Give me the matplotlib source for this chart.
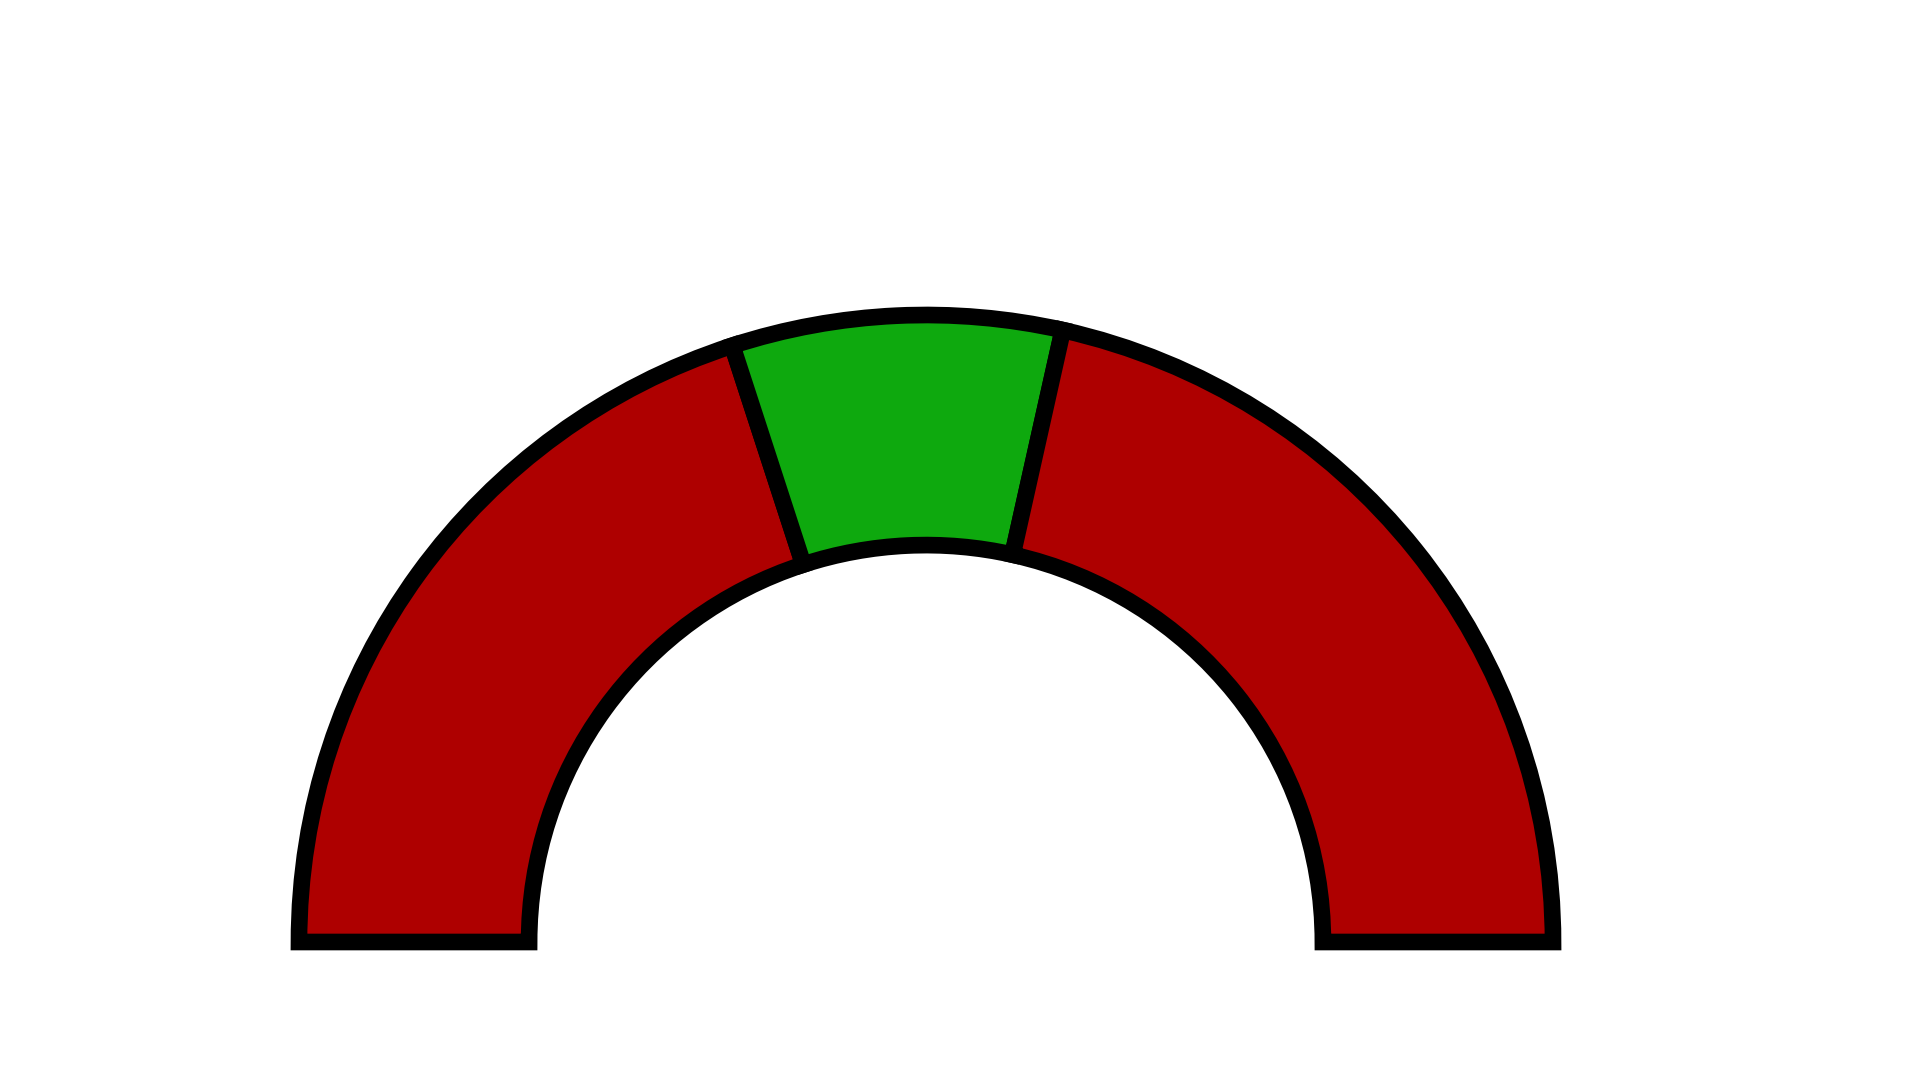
"""
Halbkreis-Tacho: rot / grün / rot, untere Hälfte ausgeblendet.
"""

import matplotlib
matplotlib.use("Agg")
import matplotlib.pyplot as plt

# Anteile der oberen Hälfte (von links nach rechts), Rest = unsichtbare untere Hälfte
segment_names = ["low", "target", "high"]
segment_values = [40, 17, 43]
segment_colors = ["#AE0000", "#0EA90E", "#AE0000"]

hidden_value = sum(segment_values)

fig = plt.figure(figsize=(19.2, 10.8), dpi=100)
ax = fig.add_axes([0, 0, 1, 1])

wedges, _ = ax.pie(
    segment_values + [hidden_value],
    colors=segment_colors + ["white"],
    startangle=180,
    counterclock=False,
    radius=1.0,
    wedgeprops=dict(width=0.367, edgecolor="black", linewidth=12,
                    joinstyle="miter"),
)
# untere Hälfte nicht zeichnen
wedges[-1].set_visible(False)

# Mittelpunkt bei ca. (926, 942) px, Radius 627 px
px_per_unit = 627.0
cx, cy = 926.0, 942.0
ax.set_xlim(-cx / px_per_unit, (1920 - cx) / px_per_unit)
ax.set_ylim(-(1080 - cy) / px_per_unit, cy / px_per_unit)
ax.set_aspect("auto")
ax.axis("off")

fig.savefig("out.png", dpi=100, facecolor="white")
